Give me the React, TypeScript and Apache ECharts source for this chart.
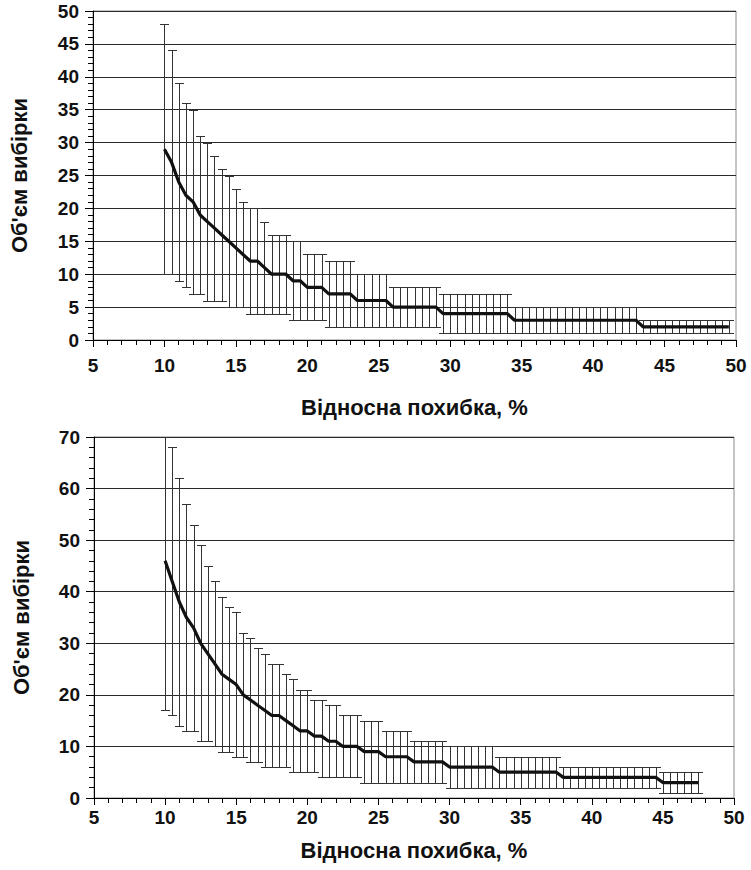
import React, { useEffect, useRef } from "react";
import * as echarts from "echarts";

// ---------- Top chart data ----------
const topX = [
  10, 10.5, 11, 11.5, 12, 12.5, 13, 13.5, 14, 14.5, 15, 15.5, 16, 16.5, 17, 17.5, 18, 18.5, 19, 19.5,
  20, 20.5, 21, 21.5, 22, 22.5, 23, 23.5, 24, 24.5, 25, 25.5, 26, 26.5, 27, 27.5, 28, 28.5, 29, 29.5,
  30, 30.5, 31, 31.5, 32, 32.5, 33, 33.5, 34, 34.5, 35, 35.5, 36, 36.5, 37, 37.5, 38, 38.5, 39, 39.5,
  40, 40.5, 41, 41.5, 42, 42.5, 43, 43.5, 44, 44.5, 45, 45.5, 46, 46.5, 47, 47.5, 48, 48.5, 49, 49.5,
];
const topMean = [
  29, 27, 24, 22, 21, 19, 18, 17, 16, 15, 14, 13, 12, 12, 11, 10, 10, 10, 9, 9,
  8, 8, 8, 7, 7, 7, 7, 6, 6, 6, 6, 6, 5, 5, 5, 5, 5, 5, 5, 4,
  4, 4, 4, 4, 4, 4, 4, 4, 4, 3, 3, 3, 3, 3, 3, 3, 3, 3, 3, 3,
  3, 3, 3, 3, 3, 3, 3, 2, 2, 2, 2, 2, 2, 2, 2, 2, 2, 2, 2, 2,
];
const topLow = [
  10, 10, 9, 8, 7, 7, 6, 6, 6, 5, 5, 5, 4, 4, 4, 4, 4, 4, 3, 3,
  3, 3, 3, 2, 2, 2, 2, 2, 2, 2, 2, 2, 2, 2, 2, 2, 2, 2, 2, 1,
  1, 1, 1, 1, 1, 1, 1, 1, 1, 1, 1, 1, 1, 1, 1, 1, 1, 1, 1, 1,
  1, 1, 1, 1, 1, 1, 1, 1, 1, 1, 1, 1, 1, 1, 1, 1, 1, 1, 1, 1,
];
const topHigh = [
  48, 44, 39, 36, 35, 31, 30, 28, 26, 25, 23, 21, 20, 20, 18, 16, 16, 16, 15, 15,
  13, 13, 13, 12, 12, 12, 12, 10, 10, 10, 10, 10, 8, 8, 8, 8, 8, 8, 8, 7,
  7, 7, 7, 7, 7, 7, 7, 7, 7, 5, 5, 5, 5, 5, 5, 5, 5, 5, 5, 5,
  5, 5, 5, 5, 5, 5, 5, 3, 3, 3, 3, 3, 3, 3, 3, 3, 3, 3, 3, 3,
];

// ---------- Bottom chart data ----------
const botX = [
  10, 10.5, 11, 11.5, 12, 12.5, 13, 13.5, 14, 14.5, 15, 15.5, 16, 16.5, 17, 17.5, 18, 18.5, 19, 19.5,
  20, 20.5, 21, 21.5, 22, 22.5, 23, 23.5, 24, 24.5, 25, 25.5, 26, 26.5, 27, 27.5, 28, 28.5, 29, 29.5,
  30, 30.5, 31, 31.5, 32, 32.5, 33, 33.5, 34, 34.5, 35, 35.5, 36, 36.5, 37, 37.5, 38, 38.5, 39, 39.5,
  40, 40.5, 41, 41.5, 42, 42.5, 43, 43.5, 44, 44.5, 45, 45.5, 46, 46.5, 47, 47.5,
];
const botMean = [
  46, 42, 38, 35, 33, 30, 28, 26, 24, 23, 22, 20, 19, 18, 17, 16, 16, 15, 14, 13,
  13, 12, 12, 11, 11, 10, 10, 10, 9, 9, 9, 8, 8, 8, 8, 7, 7, 7, 7, 7,
  6, 6, 6, 6, 6, 6, 6, 5, 5, 5, 5, 5, 5, 5, 5, 5, 4, 4, 4, 4,
  4, 4, 4, 4, 4, 4, 4, 4, 4, 4, 3, 3, 3, 3, 3, 3,
];
const botLow = [
  17, 16, 14, 13, 13, 11, 11, 10, 9, 9, 8, 8, 7, 7, 6, 6, 6, 6, 5, 5,
  5, 5, 4, 4, 4, 4, 4, 4, 3, 3, 3, 3, 3, 3, 3, 3, 3, 3, 3, 3,
  2, 2, 2, 2, 2, 2, 2, 2, 2, 2, 2, 2, 2, 2, 2, 2, 2, 2, 2, 2,
  2, 2, 2, 2, 2, 2, 2, 2, 2, 2, 1, 1, 1, 1, 1, 1,
];
const botHigh = [
  75, 68, 62, 57, 53, 49, 45, 42, 39, 37, 36, 32, 31, 29, 28, 26, 26, 24, 23, 21,
  21, 19, 19, 18, 18, 16, 16, 16, 15, 15, 15, 13, 13, 13, 13, 11, 11, 11, 11, 11,
  10, 10, 10, 10, 10, 10, 10, 8, 8, 8, 8, 8, 8, 8, 8, 8, 6, 6, 6, 6,
  6, 6, 6, 6, 6, 6, 6, 6, 6, 6, 5, 5, 5, 5, 5, 5,
];

const xTitle = "Відносна похибка, %";
const yTitle = "Об'єм вибірки";

const FONT = "'Liberation Sans', Arial, sans-serif";

function errRender(params: any, api: any) {
  const x = api.value(0);
  const lo = api.value(1);
  const hi = api.value(2);
  const pLo = api.coord([x, lo]);
  const pHi = api.coord([x, hi]);
  const cx = Math.round(pLo[0]) + 0.5;
  const yl = Math.round(pLo[1]) + 0.5;
  const yh = Math.round(pHi[1]) + 0.5;
  const hw = 4.5;
  const st = { stroke: "#333", lineWidth: 1 };
  return {
    type: "group",
    children: [
      { type: "line", shape: { x1: cx, y1: yl, x2: cx, y2: yh }, style: st },
      { type: "line", shape: { x1: cx - hw, y1: yl, x2: cx + hw, y2: yl }, style: st },
      { type: "line", shape: { x1: cx - hw, y1: yh, x2: cx + hw, y2: yh }, style: st },
    ],
  };
}

function xAxisCfg(gridIndex: number, labelMargin: number, nameGap: number) {
  return {
    type: "value",
    gridIndex,
    min: 5,
    max: 50,
    interval: 5,
    axisLine: { show: true, onZero: false, lineStyle: { color: "#000", width: 1 } },
    axisTick: { show: true, length: 7, lineStyle: { color: "#000" } },
    minorTick: { show: true, splitNumber: 5, length: 5, lineStyle: { color: "#000" } },
    splitLine: { show: false },
    axisLabel: {
      fontFamily: FONT,
      fontWeight: "bold",
      fontSize: 19,
      color: "#111",
      margin: labelMargin,
    },
    name: xTitle,
    nameLocation: "middle",
    nameGap,
    nameTextStyle: { fontFamily: FONT, fontWeight: "bold", fontSize: 22, color: "#111" },
  };
}

function yAxisCfg(gridIndex: number, max: number, interval: number, nameGap: number) {
  return {
    type: "value",
    gridIndex,
    min: 0,
    max,
    interval,
    axisLine: { show: true, lineStyle: { color: "#000", width: 1 } },
    axisTick: { show: true, length: 8, lineStyle: { color: "#000" } },
    minorTick: { show: true, splitNumber: 5, length: 5, lineStyle: { color: "#000" } },
    splitLine: { show: true, lineStyle: { color: "#2a2a2a", width: 1 } },
    axisLabel: {
      fontFamily: FONT,
      fontWeight: "bold",
      fontSize: 19,
      color: "#111",
      margin: 14,
    },
    name: yTitle,
    nameLocation: "middle",
    nameGap,
    nameRotate: 90,
    nameTextStyle: { fontFamily: FONT, fontWeight: "bold", fontSize: 22, color: "#111" },
  };
}

export default function App() {
  const ref = useRef<HTMLDivElement>(null);
  useEffect(() => {
    if (!ref.current) return;
    const chart = echarts.init(ref.current, undefined, { renderer: "svg" });
    const topErr = topX.map((x, i) => [x, topLow[i], topHigh[i]]);
    const topLine = topX.map((x, i) => [x, topMean[i]]);
    const botErr = botX.map((x, i) => [x, botLow[i], botHigh[i]]);
    const botLine = botX.map((x, i) => [x, botMean[i]]);
    chart.setOption({
      animation: false,
      backgroundColor: "#fff",
      grid: [
        { left: 91, top: 11, width: 645, height: 329, show: true, borderColor: "#8a8a8a", borderWidth: 1 },
        { left: 94, top: 437, width: 640, height: 361, show: true, borderColor: "#8a8a8a", borderWidth: 1 },
      ],
      xAxis: [xAxisCfg(0, 16, 56), xAxisCfg(1, 10, 41)],
      yAxis: [yAxisCfg(0, 50, 5, 63), yAxisCfg(1, 70, 10, 62)],
      series: [
        {
          type: "custom",
          xAxisIndex: 0,
          yAxisIndex: 0,
          renderItem: errRender,
          data: topErr,
          clip: true,
          encode: { x: 0, y: [1, 2] },
          z: 2,
        },
        {
          type: "line",
          xAxisIndex: 0,
          yAxisIndex: 0,
          data: topLine,
          showSymbol: false,
          symbol: "none",
          lineStyle: { color: "#111", width: 3.2 },
          z: 3,
        },
        {
          type: "custom",
          xAxisIndex: 1,
          yAxisIndex: 1,
          renderItem: errRender,
          data: botErr,
          clip: true,
          encode: { x: 0, y: [1, 2] },
          z: 2,
        },
        {
          type: "line",
          xAxisIndex: 1,
          yAxisIndex: 1,
          data: botLine,
          showSymbol: false,
          symbol: "none",
          lineStyle: { color: "#111", width: 3.2 },
          z: 3,
        },
      ],
    });
    return () => chart.dispose();
  }, []);
  return (
    <div
      ref={ref}
      style={{ position: "absolute", left: 0, top: 0, width: 751, height: 870 }}
    />
  );
}
